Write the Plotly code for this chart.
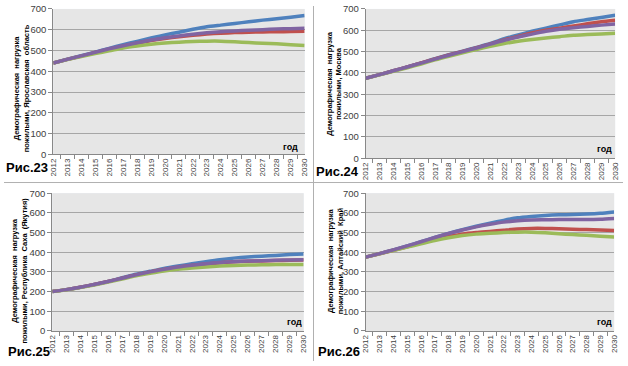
import plotly.graph_objects as go

years = [str(y) for y in range(2012, 2031)]

# Рис.23 Ярославская область
yar_blue = [440, 458, 475, 492, 510, 528, 544, 560, 575, 588, 602, 614, 622, 630, 638, 646, 653, 660, 668]
yar_red = [440, 457, 473, 490, 506, 521, 535, 548, 558, 566, 573, 579, 583, 586, 588, 589, 590, 591, 592]
yar_green = [440, 456, 471, 485, 498, 512, 522, 530, 536, 540, 543, 545, 545, 542, 538, 535, 532, 528, 524]
yar_purple = [440, 457, 474, 491, 508, 523, 537, 550, 561, 570, 578, 585, 590, 594, 597, 600, 603, 605, 607]

# Рис.24 Москва
msk_blue = [375, 392, 410, 428, 447, 467, 485, 502, 520, 538, 560, 578, 595, 610, 625, 640, 650, 660, 670]
msk_red = [375, 392, 410, 428, 447, 466, 484, 501, 518, 536, 555, 571, 587, 600, 610, 620, 630, 640, 647]
msk_green = [375, 391, 408, 424, 442, 461, 478, 494, 510, 525, 538, 548, 557, 564, 570, 577, 580, 583, 586]
msk_purple = [375, 392, 410, 428, 446, 465, 483, 500, 517, 535, 553, 568, 582, 595, 605, 612, 618, 624, 629]

# Рис.25 Республика Саха (Якутия)
yak_blue = [200, 210, 222, 236, 252, 270, 288, 303, 318, 330, 341, 352, 362, 370, 376, 380, 384, 388, 391]
yak_red = [200, 210, 222, 236, 251, 268, 285, 300, 313, 324, 333, 340, 346, 351, 354, 356, 358, 359, 360]
yak_green = [200, 209, 220, 233, 248, 264, 280, 293, 305, 314, 320, 325, 330, 333, 335, 336, 337, 338, 338]
yak_purple = [200, 210, 222, 236, 251, 268, 285, 300, 313, 325, 334, 342, 348, 352, 355, 357, 359, 361, 362]

# Рис.26 Алтайский Край
alt_blue = [375, 393, 412, 432, 453, 475, 496, 515, 532, 547, 562, 575, 582, 587, 590, 592, 594, 598, 605]
alt_red = [375, 392, 410, 428, 447, 465, 480, 492, 500, 506, 512, 518, 521, 521, 519, 517, 515, 513, 511]
alt_green = [375, 392, 409, 426, 443, 460, 474, 485, 492, 496, 500, 502, 502, 499, 494, 490, 486, 481, 477]
alt_purple = [375, 393, 412, 432, 453, 475, 495, 513, 529, 542, 553, 560, 564, 565, 566, 566, 566, 568, 572]

fig_labels = ["Рис.23", "Рис.24", "Рис.25", "Рис.26"]
ytitles = [
    "Демографическая  нагрузка<br>пожилыми, Ярославская  область",
    "Демографическая  нагрузка<br>пожилыми, Москва",
    "Демографическая  нагрузка<br>пожилыми, Республика  Саха  (Якутия)",
    "Демографическая  нагрузка<br>пожилыми, Алтайский  Край",
]
xlabel = "год"

panels = [
    (yar_blue, yar_red, yar_green, yar_purple),
    (msk_blue, msk_red, msk_green, msk_purple),
    (yak_blue, yak_red, yak_green, yak_purple),
    (alt_blue, alt_red, alt_green, alt_purple),
]
colors = ["#4F81BD", "#C0504D", "#9BBB59", "#8064A2"]

W, H = 628, 366
# pixel boxes: (left, right, top, bottom)
boxes = [(50, 305, 3, 153), (367, 620, 3, 157), (49, 304, 193, 335), (367, 619, 193, 335)]

fig = go.Figure()
layout = dict(
    width=W, height=H, margin=dict(l=0, r=0, t=0, b=0),
    paper_bgcolor="white", showlegend=False,
    font=dict(family="Liberation Sans, sans-serif", size=9, color="#404040"),
)
shapes = []
for i, (series, box) in enumerate(zip(panels, boxes)):
    n = "" if i == 0 else str(i + 1)
    l, r, t, b = box
    for vals, c in zip(series, colors):
        fig.add_trace(go.Scatter(
            x=years, y=vals, mode="lines", xaxis="x" + n, yaxis="y" + n,
            line=dict(color=c, width=3.5, shape="spline", smoothing=0.6),
            hoverinfo="skip",
        ))
    layout["xaxis" + n] = dict(
        domain=[l / W, r / W], anchor="y" + n, type="category",
        tickangle=-90, ticks="outside", ticklen=4, tickcolor="#888888",
        tickson="boundaries", showgrid=False, showline=True, linecolor="#888888",
        tickfont=dict(size=8, color="#404040"),
    )
    layout["yaxis" + n] = dict(
        domain=[1 - b / H, 1 - t / H], anchor="x" + n, range=[0, 700], dtick=100,
        ticks="outside", ticklen=4, tickcolor="#888888", showline=True,
        linecolor="#888888", gridcolor="#a6a6a6", gridwidth=1, zeroline=False,
        tickfont=dict(size=9.5, color="#404040"),
    )
    shapes.append(dict(type="rect", xref="paper", yref="paper", x0=l / W, x1=r / W,
                       y0=1 - b / H, y1=1 - t / H, fillcolor="#e6e6e6",
                       line=dict(width=0), layer="below"))

# separators
shapes += [
    dict(type="line", xref="paper", yref="paper", x0=314 / W, x1=314 / W, y0=0, y1=1,
         line=dict(color="#b0b0b0", width=1)),
    dict(type="line", xref="paper", yref="paper", x0=0, x1=1, y0=1 - 182 / H, y1=1 - 182 / H,
         line=dict(color="#b0b0b0", width=1)),
]
layout["shapes"] = shapes

ann = []
fig_pos = [(23, 167), (338, 171), (25, 356), (340, 356)]
god_pos = [(291, 145), (609, 147), (295, 326), (609, 326)]
yt_pos = [(18, 85), (335, 80), (16, 273), (336, 263)]
for i in range(4):
    x, y = fig_pos[i]
    ann.append(dict(text="<b>" + fig_labels[i] + "</b>", x=x / W, y=1 - y / H, xref="paper", yref="paper",
                    showarrow=False, font=dict(family="Liberation Sans", size=13, color="#000000"),
                    xanchor="center", yanchor="middle", borderpad=0))
    x, y = god_pos[i]
    ann.append(dict(text="<b>" + xlabel + "</b>", x=x / W, y=1 - y / H, xref="paper", yref="paper",
                    showarrow=False, font=dict(family="Liberation Sans", size=9, color="#000000"),
                    xanchor="center", yanchor="middle"))
    x, y = yt_pos[i]
    ann.append(dict(text="<b>" + ytitles[i] + "</b>", x=x / W, y=1 - y / H, xref="paper", yref="paper",
                    showarrow=False, textangle=-90,
                    font=dict(family="Liberation Sans", size=7.5, color="#000000"),
                    xanchor="center", yanchor="middle"))
layout["annotations"] = ann

fig.update_layout(**layout)
fig.write_html("out.html", config={"displayModeBar": False},
               post_script="document.body.style.margin='0';document.body.style.overflow='hidden';")
